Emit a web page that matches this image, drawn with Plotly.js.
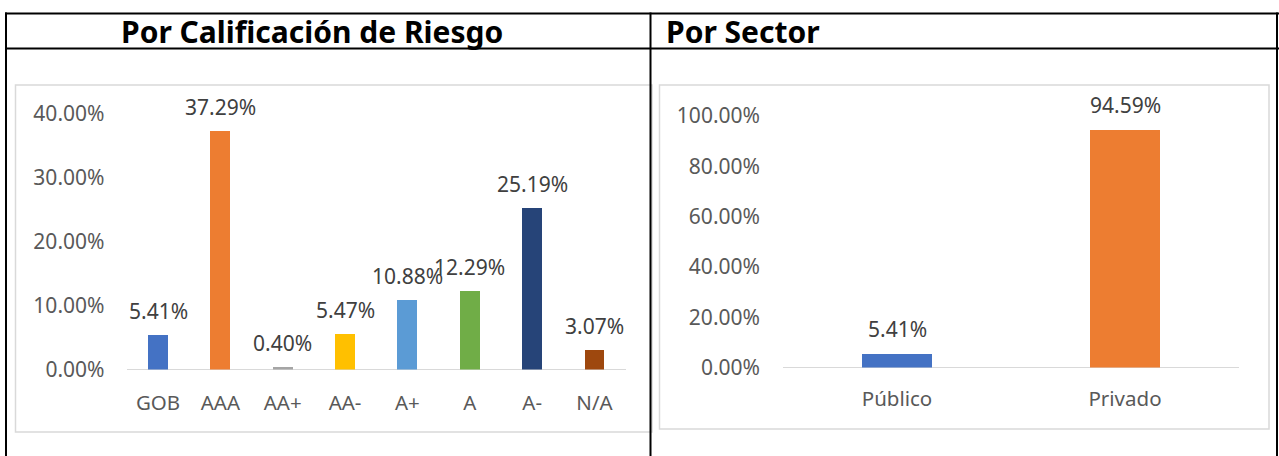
<!DOCTYPE html>
<html>
<head>
<meta charset="utf-8">
<script src="https://cdn.plot.ly/plotly-3.0.1.min.js"></script>
<style>
html,body{margin:0;padding:0;background:#fff;}
#chart{width:1279px;height:456px;}
</style>
</head>
<body>
<div id="chart"></div>
<script>
// ---- Data ----
const ratingCategories = ["GOB", "AAA", "AA+", "AA-", "A+", "A", "A-", "N/A"];
const ratingValues = [0.0541, 0.3729, 0.0040, 0.0547, 0.1088, 0.1229, 0.2519, 0.0307];
const ratingColors = ["#4472C4", "#ED7D31", "#A5A5A5", "#FFC000", "#5B9BD5", "#70AD47", "#264478", "#9E480E"];
const ratingTicks = [0, 0.1, 0.2, 0.3, 0.4];

const sectorCategories = ["Público", "Privado"];
const sectorValues = [0.0541, 0.9459];
const sectorColors = ["#4472C4", "#ED7D31"];
const sectorTicks = [0, 0.2, 0.4, 0.6, 0.8, 1.0];

const leftHeader = "Por Calificación de Riesgo";
const rightHeader = "Por Sector";

// ---- Layout helpers ----
const W = 1279, H = 456;
const px = x => x / W;
const py = y => 1 - y / H;

const FONT = "Noto Sans, Open Sans, sans-serif";
const tickFont = {family: FONT, size: 21, color: "#595959"};
const catFont = {family: FONT, size: 20.5, color: "#595959"};
const labelFont = {family: FONT, size: 21, color: "#404040"};

const traces = [
  {type: "bar", x: ratingCategories, y: ratingValues, marker: {color: ratingColors},
   width: 0.32, xaxis: "x", yaxis: "y", hoverinfo: "none"},
  {type: "bar", x: sectorCategories, y: sectorValues, marker: {color: sectorColors},
   width: 0.31, xaxis: "x2", yaxis: "y2", hoverinfo: "none"}
];

const annotations = [];
ratingCategories.forEach((c, i) => annotations.push({
  x: c, y: ratingValues[i], xref: "x", yref: "y", text: (ratingValues[i] * 100).toFixed(2) + "%",
  showarrow: false, yanchor: "middle", yshift: 24, font: labelFont
}));
sectorCategories.forEach((c, i) => annotations.push({
  x: c, y: sectorValues[i], xref: "x2", yref: "y2", text: (sectorValues[i] * 100).toFixed(2) + "%",
  showarrow: false, yanchor: "middle", yshift: 25, font: labelFont
}));
annotations.push({
  x: px(312), y: py(31), xref: "paper", yref: "paper", text: "<b>" + leftHeader + "</b>",
  showarrow: false, xanchor: "center", yanchor: "middle",
  font: {family: FONT, size: 30, color: "#000000"}
});
annotations.push({
  x: px(664), y: py(31), xref: "paper", yref: "paper", text: "<b>" + rightHeader + "</b>",
  showarrow: false, xanchor: "left", yanchor: "middle",
  font: {family: FONT, size: 30, color: "#000000"}
});

const line = (x0, y0, x1, y1, color, width) => ({
  type: "line", xref: "paper", yref: "paper", x0: px(x0), y0: py(y0), x1: px(x1), y1: py(y1),
  line: {color: color, width: width}, layer: "above"
});
const rect = (x0, y0, x1, y1, color, width) => ({
  type: "rect", xref: "paper", yref: "paper", x0: px(x0), y0: py(y0), x1: px(x1), y1: py(y1),
  line: {color: color, width: width}, fillcolor: "rgba(0,0,0,0)", layer: "below"
});

const shapes = [
  rect(15.5, 85, 652, 432, "#D9D9D9", 1.5),
  rect(659.5, 85, 1269, 429, "#D9D9D9", 1.5),
  line(5, 13.5, 1279, 13.5, "#000000", 2),
  line(5, 48.5, 1279, 48.5, "#000000", 2),
  line(6, 12.5, 6, 456, "#000000", 2),
  line(650.5, 12.5, 650.5, 456, "#000000", 2),
  line(1277, 12.5, 1277, 456, "#000000", 2)
];

const layout = {
  width: W, height: H,
  margin: {l: 0, r: 0, t: 0, b: 0},
  paper_bgcolor: "#ffffff", plot_bgcolor: "rgba(0,0,0,0)",
  showlegend: false,
  bargap: 0,
  xaxis: {
    domain: [px(126.5), px(626)], anchor: "y", type: "category",
    showgrid: false, zeroline: false, showline: false,
    ticks: "", ticklabelstandoff: 19, tickfont: catFont, fixedrange: true
  },
  yaxis: {
    domain: [py(369.5), py(113.5)], anchor: "x", range: [0, 0.4],
    tickvals: ratingTicks, tickformat: ".2%",
    showgrid: false, zeroline: true, zerolinecolor: "#D9D9D9", zerolinewidth: 1.5,
    showline: false, ticks: "", ticklabelstandoff: 21, tickfont: tickFont, fixedrange: true
  },
  xaxis2: {
    domain: [px(783), px(1239)], anchor: "y2", type: "category",
    showgrid: false, zeroline: false, showline: false,
    ticks: "", ticklabelstandoff: 17, tickfont: catFont, fixedrange: true
  },
  yaxis2: {
    domain: [py(367.5), py(116)], anchor: "x2", range: [0, 1.0],
    tickvals: sectorTicks, tickformat: ".2%",
    showgrid: false, zeroline: true, zerolinecolor: "#D9D9D9", zerolinewidth: 1.5,
    showline: false, ticks: "", ticklabelstandoff: 22, tickfont: tickFont, fixedrange: true
  },
  annotations: annotations,
  shapes: shapes
};

Plotly.newPlot("chart", traces, layout, {displayModeBar: false, staticPlot: true});
</script>
</body>
</html>
